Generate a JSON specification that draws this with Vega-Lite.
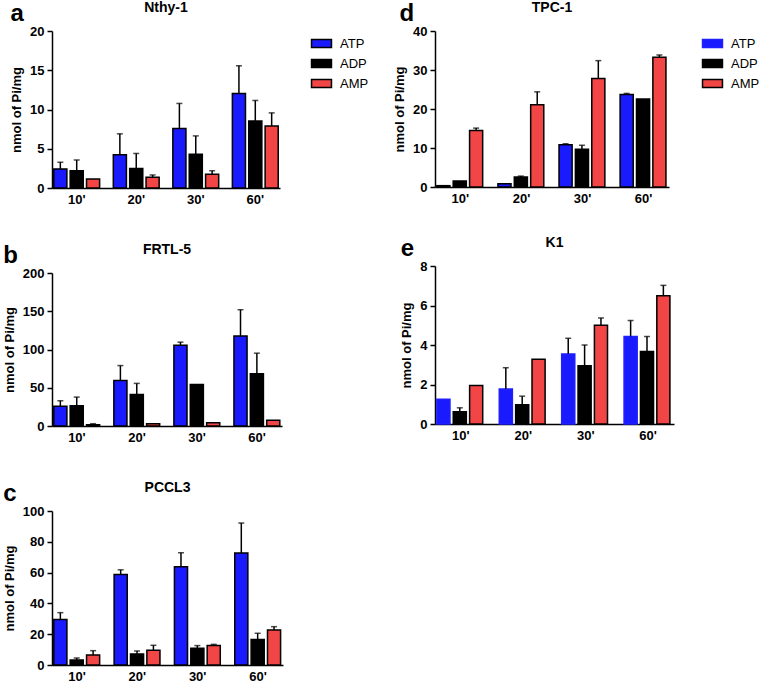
{
  "$schema": "https://vega.github.io/schema/vega-lite/v6.json",
  "padding": {"left": 3, "top": 1, "right": 0, "bottom": 0},
  "config": {
    "font": "Liberation Sans",
    "view": {"stroke": null},
    "axis": {"domainColor": "black", "domainWidth": 1.5, "tickColor": "black", "tickWidth": 1.5, "labelColor": "black", "labelFontWeight": "bold", "labelFontSize": 13, "labelFont": "Liberation Sans", "titleFont": "Liberation Sans", "titleFontSize": 13, "titleFontWeight": "bold", "titleColor": "black", "grid": false, "labelOverlap": false},
    "axisX": {"ticks": false, "labelAngle": 0, "labelPadding": 5},
    "axisY": {"tickSize": 5, "titlePadding": 6, "labelPadding": 3},
    "title": {"fontSize": 14, "fontWeight": "bold", "color": "black", "anchor": "middle", "offset": 10, "font": "Liberation Sans"},
    "legend": {"labelFontSize": 13, "labelColor": "black", "labelFont": "Liberation Sans", "symbolType": "M-1.05,-0.42H1.05V0.42H-1.05Z", "symbolSize": 361, "symbolStrokeColor": "black", "symbolStrokeWidth": 1.5, "rowPadding": 2, "offset": 26, "padding": 2, "labelOffset": 8}
  },
  "datasets": {
    "d": [
      {"panel": "a", "time": "10'", "type": "ATP", "mean": 2.43, "hi": 3.28},
      {"panel": "a", "time": "10'", "type": "ADP", "mean": 2.2, "hi": 3.57},
      {"panel": "a", "time": "10'", "type": "AMP", "mean": 1.15, "hi": null},
      {"panel": "a", "time": "20'", "type": "ATP", "mean": 4.25, "hi": 6.9},
      {"panel": "a", "time": "20'", "type": "ADP", "mean": 2.5, "hi": 4.4},
      {"panel": "a", "time": "20'", "type": "AMP", "mean": 1.36, "hi": 1.66},
      {"panel": "a", "time": "30'", "type": "ATP", "mean": 7.57, "hi": 10.77},
      {"panel": "a", "time": "30'", "type": "ADP", "mean": 4.3, "hi": 6.64},
      {"panel": "a", "time": "30'", "type": "AMP", "mean": 1.74, "hi": 2.2},
      {"panel": "a", "time": "60'", "type": "ATP", "mean": 12.04, "hi": 15.57},
      {"panel": "a", "time": "60'", "type": "ADP", "mean": 8.55, "hi": 11.15},
      {"panel": "a", "time": "60'", "type": "AMP", "mean": 7.9, "hi": 9.57},
      {"panel": "b", "time": "10'", "type": "ATP", "mean": 25.7, "hi": 33},
      {"panel": "b", "time": "10'", "type": "ADP", "mean": 26.5, "hi": 37.8},
      {"panel": "b", "time": "10'", "type": "AMP", "mean": 1.7, "hi": 3},
      {"panel": "b", "time": "20'", "type": "ATP", "mean": 59.6, "hi": 79},
      {"panel": "b", "time": "20'", "type": "ADP", "mean": 41.3, "hi": 55.7},
      {"panel": "b", "time": "20'", "type": "AMP", "mean": 3, "hi": null},
      {"panel": "b", "time": "30'", "type": "ATP", "mean": 105.7, "hi": 109.6},
      {"panel": "b", "time": "30'", "type": "ADP", "mean": 54.3, "hi": null},
      {"panel": "b", "time": "30'", "type": "AMP", "mean": 4.3, "hi": null},
      {"panel": "b", "time": "60'", "type": "ATP", "mean": 117.8, "hi": 152},
      {"panel": "b", "time": "60'", "type": "ADP", "mean": 68.3, "hi": 95.2},
      {"panel": "b", "time": "60'", "type": "AMP", "mean": 7.4, "hi": null},
      {"panel": "c", "time": "10'", "type": "ATP", "mean": 29.5, "hi": 34},
      {"panel": "c", "time": "10'", "type": "ADP", "mean": 3.25, "hi": 4.55},
      {"panel": "c", "time": "10'", "type": "AMP", "mean": 6.5, "hi": 9.3},
      {"panel": "c", "time": "20'", "type": "ATP", "mean": 58.8, "hi": 61.8},
      {"panel": "c", "time": "20'", "type": "ADP", "mean": 7.2, "hi": 9.1},
      {"panel": "c", "time": "20'", "type": "AMP", "mean": 9.5, "hi": 12.8},
      {"panel": "c", "time": "30'", "type": "ATP", "mean": 63.8, "hi": 72.9},
      {"panel": "c", "time": "30'", "type": "ADP", "mean": 10.8, "hi": 12.6},
      {"panel": "c", "time": "30'", "type": "AMP", "mean": 12.6, "hi": 13.4},
      {"panel": "c", "time": "60'", "type": "ATP", "mean": 72.7, "hi": 92.2},
      {"panel": "c", "time": "60'", "type": "ADP", "mean": 16.5, "hi": 20.6},
      {"panel": "c", "time": "60'", "type": "AMP", "mean": 22.8, "hi": 24.9},
      {"panel": "d", "time": "10'", "type": "ATP", "mean": 0.34, "hi": null},
      {"panel": "d", "time": "10'", "type": "ADP", "mean": 1.54, "hi": null},
      {"panel": "d", "time": "10'", "type": "AMP", "mean": 14.5, "hi": 15.1},
      {"panel": "d", "time": "20'", "type": "ATP", "mean": 0.85, "hi": null},
      {"panel": "d", "time": "20'", "type": "ADP", "mean": 2.56, "hi": 2.8},
      {"panel": "d", "time": "20'", "type": "AMP", "mean": 21.1, "hi": 24.4},
      {"panel": "d", "time": "30'", "type": "ATP", "mean": 10.85, "hi": 11.1},
      {"panel": "d", "time": "30'", "type": "ADP", "mean": 9.66, "hi": 10.7},
      {"panel": "d", "time": "30'", "type": "AMP", "mean": 27.8, "hi": 32.4},
      {"panel": "d", "time": "60'", "type": "ATP", "mean": 23.7, "hi": 24.0},
      {"panel": "d", "time": "60'", "type": "ADP", "mean": 22.56, "hi": null},
      {"panel": "d", "time": "60'", "type": "AMP", "mean": 33.3, "hi": 33.85},
      {"panel": "e", "time": "10'", "type": "ATP", "mean": 1.25, "hi": null},
      {"panel": "e", "time": "10'", "type": "ADP", "mean": 0.62, "hi": 0.82},
      {"panel": "e", "time": "10'", "type": "AMP", "mean": 1.95, "hi": null},
      {"panel": "e", "time": "20'", "type": "ATP", "mean": 1.77, "hi": 2.85},
      {"panel": "e", "time": "20'", "type": "ADP", "mean": 0.98, "hi": 1.41},
      {"panel": "e", "time": "20'", "type": "AMP", "mean": 3.28, "hi": null},
      {"panel": "e", "time": "30'", "type": "ATP", "mean": 3.54, "hi": 4.34},
      {"panel": "e", "time": "30'", "type": "ADP", "mean": 2.95, "hi": 4.0},
      {"panel": "e", "time": "30'", "type": "AMP", "mean": 5.0, "hi": 5.37},
      {"panel": "e", "time": "60'", "type": "ATP", "mean": 4.43, "hi": 5.24},
      {"panel": "e", "time": "60'", "type": "ADP", "mean": 3.67, "hi": 4.43},
      {"panel": "e", "time": "60'", "type": "AMP", "mean": 6.5, "hi": 7.02}
    ]
  },
  "spacing": 22,
  "hconcat": [
    {
      "spacing": 37,
      "vconcat": [
        {
          "title": {"text": "a", "fontSize": 24, "anchor": "start", "frame": "bounds", "offset": -25},
          "vconcat": [{
            "width": 228, "height": 157,
            "title": "Nthy-1",
            "data": {"name": "d"},
            "transform": [{"filter": "datum.panel == 'a'"}],
            "encoding": {
              "x": {"field": "time", "type": "nominal", "sort": ["10'", "20'", "30'", "60'"], "title": null, "scale": {"paddingInner": 0.23, "paddingOuter": 0.03}},
              "xOffset": {"field": "type", "type": "nominal", "sort": ["ATP", "ADP", "AMP"], "scale": {"paddingInner": 0.2, "paddingOuter": 0}}
            },
            "layer": [
              {"mark": {"type": "bar", "stroke": "black", "strokeWidth": 1.5},
               "encoding": {
                 "y": {"field": "mean", "type": "quantitative", "title": "nmol of Pi/mg", "scale": {"domain": [0, 20]}, "axis": {"values": [0, 5, 10, 15, 20]}},
                 "color": {"field": "type", "type": "nominal", "sort": ["ATP", "ADP", "AMP"], "scale": {"domain": ["ATP", "ADP", "AMP"], "range": ["#1a1aff", "#000000", "#f24646"]}, "legend": {"title": null}}
               }},
              {"transform": [{"filter": "datum.hi != null"}],
               "mark": {"type": "rule", "strokeWidth": 1.5, "color": "black"},
               "encoding": {"y": {"field": "mean", "type": "quantitative", "title": "nmol of Pi/mg", "axis": {"values": [0, 5, 10, 15, 20]}}, "y2": {"field": "hi"}}},
              {"transform": [{"filter": "datum.hi != null"}],
               "mark": {"type": "tick", "size": 6, "thickness": 1.5, "color": "black"},
               "encoding": {"y": {"field": "hi", "type": "quantitative", "title": "nmol of Pi/mg", "axis": {"values": [0, 5, 10, 15, 20]}}}}
            ]
          }]
        },
        {
          "title": {"text": "b", "fontSize": 24, "anchor": "start", "frame": "bounds", "offset": -25},
          "vconcat": [{
            "width": 230, "height": 153,
            "title": "FRTL-5",
            "data": {"name": "d"},
            "transform": [{"filter": "datum.panel == 'b'"}],
            "encoding": {
              "x": {"field": "time", "type": "nominal", "sort": ["10'", "20'", "30'", "60'"], "title": null, "scale": {"paddingInner": 0.23, "paddingOuter": 0.03}},
              "xOffset": {"field": "type", "type": "nominal", "sort": ["ATP", "ADP", "AMP"], "scale": {"paddingInner": 0.2, "paddingOuter": 0}}
            },
            "layer": [
              {"mark": {"type": "bar", "stroke": "black", "strokeWidth": 1.5},
               "encoding": {
                 "y": {"field": "mean", "type": "quantitative", "title": "nmol of Pi/mg", "scale": {"domain": [0, 200]}, "axis": {"values": [0, 50, 100, 150, 200]}},
                 "color": {"field": "type", "type": "nominal", "sort": ["ATP", "ADP", "AMP"], "scale": {"domain": ["ATP", "ADP", "AMP"], "range": ["#1a1aff", "#000000", "#f24646"]}, "legend": {"title": null}}
               }},
              {"transform": [{"filter": "datum.hi != null"}],
               "mark": {"type": "rule", "strokeWidth": 1.5, "color": "black"},
               "encoding": {"y": {"field": "mean", "type": "quantitative", "title": "nmol of Pi/mg", "axis": {"values": [0, 50, 100, 150, 200]}}, "y2": {"field": "hi"}}},
              {"transform": [{"filter": "datum.hi != null"}],
               "mark": {"type": "tick", "size": 6, "thickness": 1.5, "color": "black"},
               "encoding": {"y": {"field": "hi", "type": "quantitative", "title": "nmol of Pi/mg", "axis": {"values": [0, 50, 100, 150, 200]}}}}
            ]
          }]
        },
        {
          "title": {"text": "c", "fontSize": 24, "anchor": "start", "frame": "bounds", "offset": -25},
          "vconcat": [{
            "width": 231, "height": 154,
            "title": "PCCL3",
            "data": {"name": "d"},
            "transform": [{"filter": "datum.panel == 'c'"}],
            "encoding": {
              "x": {"field": "time", "type": "nominal", "sort": ["10'", "20'", "30'", "60'"], "title": null, "scale": {"paddingInner": 0.23, "paddingOuter": 0.03}},
              "xOffset": {"field": "type", "type": "nominal", "sort": ["ATP", "ADP", "AMP"], "scale": {"paddingInner": 0.2, "paddingOuter": 0}}
            },
            "layer": [
              {"mark": {"type": "bar", "stroke": "black", "strokeWidth": 1.5},
               "encoding": {
                 "y": {"field": "mean", "type": "quantitative", "title": "nmol of Pi/mg", "scale": {"domain": [0, 100]}, "axis": {"values": [0, 20, 40, 60, 80, 100]}},
                 "color": {"field": "type", "type": "nominal", "sort": ["ATP", "ADP", "AMP"], "scale": {"domain": ["ATP", "ADP", "AMP"], "range": ["#1a1aff", "#000000", "#f24646"]}, "legend": {"title": null}}
               }},
              {"transform": [{"filter": "datum.hi != null"}],
               "mark": {"type": "rule", "strokeWidth": 1.5, "color": "black"},
               "encoding": {"y": {"field": "mean", "type": "quantitative", "title": "nmol of Pi/mg", "axis": {"values": [0, 20, 40, 60, 80, 100]}}, "y2": {"field": "hi"}}},
              {"transform": [{"filter": "datum.hi != null"}],
               "mark": {"type": "tick", "size": 6, "thickness": 1.5, "color": "black"},
               "encoding": {"y": {"field": "hi", "type": "quantitative", "title": "nmol of Pi/mg", "axis": {"values": [0, 20, 40, 60, 80, 100]}}}}
            ]
          }]
        }
      ]
    },
    {
      "spacing": 31,
      "vconcat": [
        {
          "title": {"text": "d", "fontSize": 24, "anchor": "start", "frame": "bounds", "offset": -25, "dx": 6},
          "vconcat": [{
            "width": 234, "height": 156,
            "title": "TPC-1",
            "data": {"name": "d"},
            "transform": [{"filter": "datum.panel == 'd'"}],
            "encoding": {
              "x": {"field": "time", "type": "nominal", "sort": ["10'", "20'", "30'", "60'"], "title": null, "scale": {"paddingInner": 0.23, "paddingOuter": 0.03}},
              "xOffset": {"field": "type", "type": "nominal", "sort": ["ATP", "ADP", "AMP"], "scale": {"paddingInner": 0.2, "paddingOuter": 0}}
            },
            "layer": [
              {"mark": {"type": "bar", "stroke": "black", "strokeWidth": 1.5},
               "encoding": {
                 "y": {"field": "mean", "type": "quantitative", "title": "nmol of Pi/mg", "scale": {"domain": [0, 40]}, "axis": {"values": [0, 10, 20, 30, 40]}},
                 "color": {"field": "type", "type": "nominal", "sort": ["ATP", "ADP", "AMP"], "scale": {"domain": ["ATP", "ADP", "AMP"], "range": ["#1a1aff", "#000000", "#f24646"]}, "legend": {"title": null}}
               }},
              {"transform": [{"filter": "datum.hi != null"}],
               "mark": {"type": "rule", "strokeWidth": 1.5, "color": "black"},
               "encoding": {"y": {"field": "mean", "type": "quantitative", "title": "nmol of Pi/mg", "axis": {"values": [0, 10, 20, 30, 40]}}, "y2": {"field": "hi"}}},
              {"transform": [{"filter": "datum.hi != null"}],
               "mark": {"type": "tick", "size": 6, "thickness": 1.5, "color": "black"},
               "encoding": {"y": {"field": "hi", "type": "quantitative", "title": "nmol of Pi/mg", "axis": {"values": [0, 10, 20, 30, 40]}}}}
            ]
          }]
        },
        {
          "title": {"text": "e", "fontSize": 24, "anchor": "start", "frame": "bounds", "offset": -25},
          "vconcat": [{
            "width": 239, "height": 158,
            "title": "K1",
            "data": {"name": "d"},
            "transform": [{"filter": "datum.panel == 'e'"}],
            "encoding": {
              "x": {"field": "time", "type": "nominal", "sort": ["10'", "20'", "30'", "60'"], "title": null, "scale": {"paddingInner": 0.23, "paddingOuter": 0.03}},
              "xOffset": {"field": "type", "type": "nominal", "sort": ["ATP", "ADP", "AMP"], "scale": {"paddingInner": 0.2, "paddingOuter": 0}}
            },
            "layer": [
              {"mark": {"type": "bar", "strokeWidth": 1.5},
               "encoding": {
                 "y": {"field": "mean", "type": "quantitative", "title": "nmol of Pi/mg", "scale": {"domain": [0, 8]}, "axis": {"values": [0, 2, 4, 6, 8]}},
                 "color": {"field": "type", "type": "nominal", "sort": ["ATP", "ADP", "AMP"], "scale": {"domain": ["ATP", "ADP", "AMP"], "range": ["#1f1fff", "#000000", "#f24646"]}, "legend": {"title": null}},
                 "stroke": {"field": "type", "type": "nominal", "sort": ["ATP", "ADP", "AMP"], "scale": {"domain": ["ATP", "ADP", "AMP"], "range": ["#1f1fff", "#000000", "#000000"]}, "legend": {"title": null}}
               }},
              {"transform": [{"filter": "datum.hi != null"}],
               "mark": {"type": "rule", "strokeWidth": 1.5, "color": "black"},
               "encoding": {"y": {"field": "mean", "type": "quantitative", "title": "nmol of Pi/mg", "axis": {"values": [0, 2, 4, 6, 8]}}, "y2": {"field": "hi"}}},
              {"transform": [{"filter": "datum.hi != null"}],
               "mark": {"type": "tick", "size": 6, "thickness": 1.5, "color": "black"},
               "encoding": {"y": {"field": "hi", "type": "quantitative", "title": "nmol of Pi/mg", "axis": {"values": [0, 2, 4, 6, 8]}}}}
            ]
          }]
        }
      ]
    }
  ],
  "resolve": {"scale": {"color": "independent", "stroke": "independent"}, "legend": {"color": "independent", "stroke": "independent"}}
}
